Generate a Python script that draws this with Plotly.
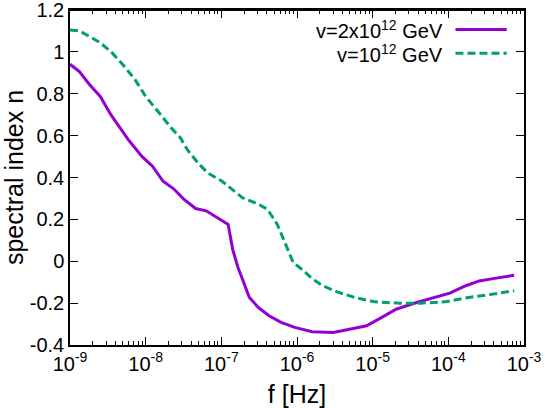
import plotly.graph_objects as go

# purple: v = 2x10^12 GeV
logf_a = [-9.0, -8.876, -8.74, -8.6, -8.46, -8.23, -8.05, -7.91, -7.77, -7.63, -7.50, -7.34,
          -7.20, -7.06, -6.91, -6.85, -6.78, -6.72, -6.63, -6.51, -6.37, -6.21, -6.03, -5.80,
          -5.52, -5.29, -5.08, -4.88, -4.69, -4.42, -4.19, -3.98, -3.77, -3.59, -3.41, -3.13]
n_a = [0.941, 0.906, 0.843, 0.787, 0.70, 0.581, 0.501, 0.454, 0.382, 0.346, 0.298, 0.252,
       0.241, 0.208, 0.176, 0.057, -0.03, -0.086, -0.173, -0.221, -0.260, -0.292, -0.316, -0.337,
       -0.340, -0.324, -0.308, -0.268, -0.229, -0.197, -0.173, -0.152, -0.117, -0.094, -0.083, -0.067]

# green dashed: v = 10^12 GeV
logf_b = [-9.0, -8.876, -8.74, -8.6, -8.44, -8.28, -8.14, -8.0, -7.82, -7.68, -7.54, -7.45,
          -7.31, -7.18, -6.99, -6.85, -6.72, -6.53, -6.39, -6.26, -6.14, -6.05, -5.91, -5.80,
          -5.66, -5.47, -5.24, -4.97, -4.65, -4.37, -4.05, -3.73, -3.41, -3.13]
n_b = [1.105, 1.10, 1.073, 1.044, 0.994, 0.930, 0.867, 0.787, 0.708, 0.644, 0.589, 0.533,
       0.470, 0.422, 0.382, 0.343, 0.303, 0.276, 0.248, 0.176, 0.073, -0.006, -0.046, -0.083,
       -0.117, -0.146, -0.173, -0.194, -0.200, -0.200, -0.194, -0.173, -0.157, -0.141]

xtick_vals = [1e-9, 1e-8, 1e-7, 1e-6, 1e-5, 1e-4, 1e-3]
xtick_text = ["10<sup>-9</sup>", "10<sup>-8</sup>", "10<sup>-7</sup>", "10<sup>-6</sup>",
              "10<sup>-5</sup>", "10<sup>-4</sup>", "10<sup>-3</sup>"]
ytick_vals = [-0.4, -0.2, 0, 0.2, 0.4, 0.6, 0.8, 1, 1.2]
ytick_text = ["-0.4", "-0.2", "0", "0.2", "0.4", "0.6", "0.8", "1", "1.2"]

purple = "#9400D3"
green = "#009E73"

fig = go.Figure()
fig.add_trace(go.Scatter(x=[10 ** v for v in logf_a], y=n_a, mode="lines",
                         line=dict(color=purple, width=3), showlegend=False))
fig.add_trace(go.Scatter(x=[10 ** v for v in logf_b], y=n_b, mode="lines",
                         line=dict(color=green, width=3, dash="8px,4px"), showlegend=False))

font = dict(family="Liberation Sans, Arial, sans-serif", size=20, color="black")

# gnuplot-style legend: text on the left, sample on the right
legend_rows = [("v=2x10<sup>12</sup> GeV", purple, "solid", 0.942),
               ("v=10<sup>12</sup> GeV", green, "8px,4px", 0.871)]
for label, col, dash, yy in legend_rows:
    fig.add_annotation(x=0.826, y=yy, xref="paper", yref="paper", text=label,
                       showarrow=False, xanchor="right", yanchor="middle", font=font)
    fig.add_shape(type="line", xref="paper", yref="paper", x0=0.849, x1=0.962, y0=yy, y1=yy,
                  line=dict(color=col, width=3, dash=dash))

# top border of the frame
fig.add_shape(type="line", xref="paper", yref="paper", x0=0, x1=1, y0=1, y1=1,
              line=dict(color="black", width=2))

fig.update_layout(
    width=545, height=408,
    margin=dict(l=70, r=21, t=10, b=63, autoexpand=False),
    paper_bgcolor="white", plot_bgcolor="white",
    font=font,
    showlegend=False,
)
fig.update_xaxes(type="log", range=[-9, -3], tickvals=xtick_vals, ticktext=xtick_text,
                 ticks="inside", ticklen=8, tickcolor="black", mirror="allticks",
                 showline=True, linecolor="black", linewidth=1.5, showgrid=False, zeroline=False,
                 minor=dict(ticks="inside", ticklen=4, tickcolor="black", dtick="D1", showgrid=False),
                 automargin=False, ticklabeloverflow="allow",
                 title=dict(text="f [Hz]", standoff=14, font=dict(size=25)), tickfont=dict(size=20))
fig.update_yaxes(range=[-0.4, 1.2], tickvals=ytick_vals, ticktext=ytick_text,
                 ticks="inside", ticklen=8, tickcolor="black", mirror="allticks",
                 showline=True, linecolor="black", linewidth=1.5, showgrid=False, zeroline=False,
                 automargin=False, ticklabeloverflow="allow",
                 title=dict(text="spectral index n", standoff=6, font=dict(size=25)),
                 tickfont=dict(size=20))

# drop the browser's default page margin so the figure sits at the window corner
fig.write_html("out.html", config={"displayModeBar": False},
               post_script="document.body.style.margin='0';")
